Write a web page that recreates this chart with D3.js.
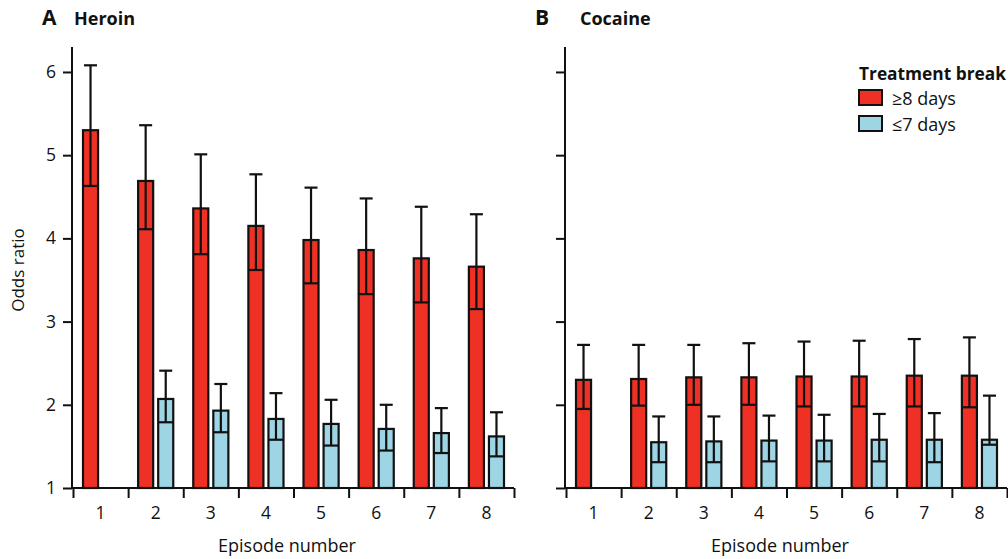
<!DOCTYPE html>
<html>
<head>
<meta charset="utf-8">
<script src="https://cdn.jsdelivr.net/npm/d3@7"></script>
<style>
  html, body { margin: 0; padding: 0; background: #fff; }
  svg text { font-family: "Open Sans", "Noto Sans", sans-serif; fill: #111; }
</style>
</head>
<body>
<svg id="chart" width="1008" height="559"></svg>
<script>
// Episode numbers on the x axis
const episodes = [1, 2, 3, 4, 5, 6, 7, 8];
const yTicks = [1, 2, 3, 4, 5, 6];

// Heroin: odds ratios with 95% CI, by treatment break length
const heroinLong = [5.30, 4.69, 4.36, 4.15, 3.98, 3.86, 3.76, 3.66];
const heroinLongLo = [4.63, 4.11, 3.81, 3.62, 3.46, 3.33, 3.23, 3.15];
const heroinLongHi = [6.08, 5.36, 5.01, 4.77, 4.61, 4.48, 4.38, 4.29];
const heroinShort = [null, 2.07, 1.93, 1.83, 1.77, 1.71, 1.66, 1.62];
const heroinShortLo = [null, 1.79, 1.67, 1.58, 1.51, 1.45, 1.42, 1.38];
const heroinShortHi = [null, 2.41, 2.25, 2.14, 2.06, 2.00, 1.96, 1.91];

// Cocaine: odds ratios with 95% CI, by treatment break length
const cocaineLong = [2.30, 2.31, 2.33, 2.33, 2.34, 2.34, 2.35, 2.35];
const cocaineLongLo = [1.95, 1.99, 2.00, 2.00, 1.98, 1.98, 1.98, 1.97];
const cocaineLongHi = [2.72, 2.72, 2.72, 2.74, 2.76, 2.77, 2.79, 2.81];
const cocaineShort = [null, 1.55, 1.56, 1.57, 1.57, 1.58, 1.58, 1.58];
const cocaineShortLo = [null, 1.31, 1.31, 1.32, 1.32, 1.32, 1.31, 1.52];
const cocaineShortHi = [null, 1.86, 1.86, 1.87, 1.88, 1.89, 1.90, 2.11];

const seriesNames = ["≥8 days", "≤7 days"];
const seriesKeys = ["long", "short"];
const colors = { long: "#ee3124", short: "#9dd5e4" };

const svg = d3.select("#chart");

const y = d3.scaleLinear().domain([1, 6.3]).range([488, 47]);

function panel(opts) {
  const g = svg.append("g");
  const x = d3.scaleBand().domain(episodes).range([opts.x0, opts.x0 + 441]).padding(0);
  const bw = x.bandwidth();
  const sub = d3.scaleBand().domain(seriesKeys).range([10, bw - 10]).paddingInner(0.25);

  const rows = [];
  episodes.forEach((ep, i) => {
    rows.push({ ep, key: "long", v: opts.long[i], lo: opts.longLo[i], hi: opts.longHi[i] });
    if (opts.short[i] != null)
      rows.push({ ep, key: "short", v: opts.short[i], lo: opts.shortLo[i], hi: opts.shortHi[i] });
  });

  // bars
  g.selectAll("rect.bar").data(rows).join("rect")
    .attr("class", "bar")
    .attr("x", d => x(d.ep) + sub(d.key))
    .attr("width", sub.bandwidth())
    .attr("y", d => y(d.v))
    .attr("height", d => y(1) - y(d.v))
    .attr("fill", d => colors[d.key])
    .attr("stroke", "#111")
    .attr("stroke-width", 2.2);

  // confidence intervals: whisker through the bar, lower bound drawn across the bar
  const cx = d => x(d.ep) + sub(d.key) + sub.bandwidth() / 2;
  const eb = g.selectAll("g.err").data(rows).join("g").attr("class", "err")
    .attr("stroke", "#111").attr("stroke-width", 2.2);
  eb.append("line")
    .attr("x1", cx).attr("x2", cx)
    .attr("y1", d => y(d.lo)).attr("y2", d => y(d.hi));
  eb.append("line")
    .attr("x1", d => cx(d) - 6.5).attr("x2", d => cx(d) + 6.5)
    .attr("y1", d => y(d.hi)).attr("y2", d => y(d.hi));
  eb.append("line")
    .attr("x1", d => x(d.ep) + sub(d.key)).attr("x2", d => x(d.ep) + sub(d.key) + sub.bandwidth())
    .attr("y1", d => y(d.lo)).attr("y2", d => y(d.lo));

  // y axis
  const ya = g.append("g").attr("transform", `translate(${opts.x0 - 1},0)`)
    .call(d3.axisLeft(y).tickValues(yTicks).tickSize(9).tickPadding(7)
      .tickFormat(opts.labels ? d3.format("d") : ""));
  ya.select(".domain").attr("d", `M0,${y(6.3)}V${y(1)}`);

  // x axis: ticks at episode boundaries, labels centred in each band
  const edges = episodes.map(e => x(e)).concat([x(episodes[episodes.length - 1]) + bw]);
  const xEdge = d3.scaleLinear().domain([opts.x0, opts.x0 + 441]).range([opts.x0, opts.x0 + 441]);
  const xa = g.append("g").attr("transform", `translate(0,${y(1)})`)
    .call(d3.axisBottom(xEdge).tickValues(edges).tickSize(10).tickFormat(""));
  xa.select(".domain").attr("d", `M${opts.x0 - 1},0H${opts.x0 + 441}`);
  const xl = g.append("g").attr("transform", `translate(0,${y(1)})`)
    .call(d3.axisBottom(x).tickSize(0).tickPadding(19));
  xl.select(".domain").remove();

  [ya, xa, xl].forEach(a => {
    a.selectAll("line, path").attr("stroke", "#111").attr("stroke-width", 2);
    a.selectAll("text").attr("font-size", 17.5).attr("fill", "#111")
      .style("font-family", '"Open Sans", sans-serif');
  });

  // axis title
  g.append("text")
    .attr("x", opts.x0 + 220 - 6).attr("y", 552)
    .attr("text-anchor", "middle").attr("font-size", 18)
    .text("Episode number");

  // panel title
  g.append("text").attr("x", opts.x0 - 31).attr("y", 25)
    .attr("font-size", 21).attr("font-weight", "bold").text(opts.letter);
  g.append("text").attr("x", opts.x0 + 1 + opts.titleDx).attr("y", 25)
    .attr("font-size", 18).attr("font-weight", "bold").text(opts.title);
}

panel({ x0: 73, letter: "A", title: "Heroin", titleDx: 0, labels: true,
  long: heroinLong, longLo: heroinLongLo, longHi: heroinLongHi,
  short: heroinShort, shortLo: heroinShortLo, shortHi: heroinShortHi });
panel({ x0: 566, letter: "B", title: "Cocaine", titleDx: 13, labels: false,
  long: cocaineLong, longLo: cocaineLongLo, longHi: cocaineLongHi,
  short: cocaineShort, shortLo: cocaineShortLo, shortHi: cocaineShortHi });

// y axis title
svg.append("text")
  .attr("transform", `translate(24,270) rotate(-90)`)
  .attr("text-anchor", "middle").attr("font-size", 17)
  .text("Odds ratio");

// legend
const lg = svg.append("g").attr("transform", "translate(859,0)");
lg.append("text").attr("x", 0).attr("y", 80)
  .attr("font-size", 17.5).attr("font-weight", "bold")
  .attr("textLength", 147).attr("lengthAdjust", "spacingAndGlyphs")
  .text("Treatment break");
seriesKeys.forEach((k, i) => {
  lg.append("rect").attr("x", 0).attr("y", 90 + i * 26).attr("width", 23).attr("height", 15)
    .attr("fill", colors[k]).attr("stroke", "#111").attr("stroke-width", 2);
  lg.append("text").attr("x", 33).attr("y", 105 + i * 26)
    .attr("font-size", 18).text(seriesNames[i]);
});
</script>
</body>
</html>
